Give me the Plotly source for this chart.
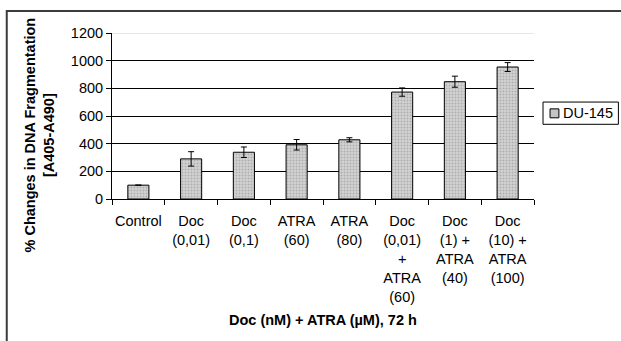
import plotly.graph_objects as go

# Treatment groups (tick labels), DNA fragmentation means and SD
categories = [
    "Control",
    "Doc<br>(0,01)",
    "Doc<br>(0,1)",
    "ATRA<br>(60)",
    "ATRA<br>(80)",
    "Doc<br>(0,01)<br>+<br>ATRA<br>(60)",
    "Doc<br>(1) +<br>ATRA<br>(40)",
    "Doc<br>(10) +<br>ATRA<br>(100)",
]
values = [100, 290, 338, 392, 428, 773, 848, 954]
errors = [None, 52, 38, 38, 15, 30, 40, 32]
series_name = "DU-145"
y_ticks = [0, 200, 400, 600, 800, 1000, 1200]
y_max = 1200

FONT = "Liberation Sans, Arial, sans-serif"
FS = 14.5

fig = go.Figure()
fig.add_trace(go.Bar(
    x=categories,
    y=values,
    name=series_name,
    showlegend=False,
    marker=dict(
        color="#c4c4c4",
        line=dict(color="#000000", width=1),
        pattern=dict(shape=".", fgcolor="#8a8a8a", bgcolor="#d2d2d2",
                     size=3, solidity=0.35),
    ),
    error_y=dict(type="data", array=errors, visible=True,
                 color="#000000", thickness=1, width=3),
))

fig.update_layout(
    width=621, height=341,
    margin=dict(l=112, r=87, t=33, b=142, autoexpand=False),
    paper_bgcolor="white", plot_bgcolor="white",
    font=dict(family=FONT, size=FS, color="#000000"),
    bargap=0.6,
    xaxis=dict(
        showline=True, linecolor="#000000", linewidth=1,
        ticks="outside", ticklen=5, tickcolor="#000000",
        tickson="boundaries", showgrid=False, tickangle=0,
        ticklabelstandoff=9,
        tickfont=dict(size=FS), automargin=False,
    ),
    yaxis=dict(
        range=[0, y_max], tickvals=y_ticks,
        showline=True, linecolor="#000000", linewidth=1,
        ticks="outside", ticklen=5, tickcolor="#000000",
        showgrid=True, gridcolor="#000000", gridwidth=1,
        zeroline=False, automargin=False,
        tickfont=dict(size=FS),
    ),
)

# axis titles
fig.add_annotation(text="<b>Doc (nM) + ATRA (µM), 72 h</b>",
                   xref="paper", yref="paper", x=0.5, y=-0.728,
                   xanchor="center", yanchor="middle", showarrow=False,
                   font=dict(size=FS))
fig.add_annotation(text="<b>% Changes in DNA Fragmentation<br>[A405-A490]</b>",
                   xref="paper", yref="paper", x=-0.172, y=0.385,
                   xanchor="center", yanchor="middle", textangle=-90,
                   showarrow=False, font=dict(size=FS))

# light top edge of the plotting area
fig.add_shape(type="line", xref="paper", yref="y", x0=0, x1=1,
              y0=y_max, y1=y_max, line=dict(color="#d0d0d0", width=1),
              layer="above")

# outer chart frame
fig.add_shape(type="rect", xref="paper", yref="paper",
              x0=-0.2494, x1=1.23, y0=-0.9, y1=1.1325,
              line=dict(color="#3c3c3c", width=2), layer="above")

# legend box with swatch and series name
fig.add_shape(type="rect", xref="paper", yref="paper",
              x0=1.0214, x1=1.2, y0=0.45, y1=0.584,
              line=dict(color="#000000", width=1), fillcolor="white")
fig.add_shape(type="rect", xref="paper", yref="paper",
              x0=1.038, x1=1.059, y0=0.489, y1=0.543,
              line=dict(color="#000000", width=1), fillcolor="#c4c4c4")
fig.add_annotation(text=series_name, xref="paper", yref="paper",
                   x=1.064, y=0.517, xanchor="left", yanchor="middle",
                   showarrow=False, font=dict(size=FS))

fig.write_html("out.html")
